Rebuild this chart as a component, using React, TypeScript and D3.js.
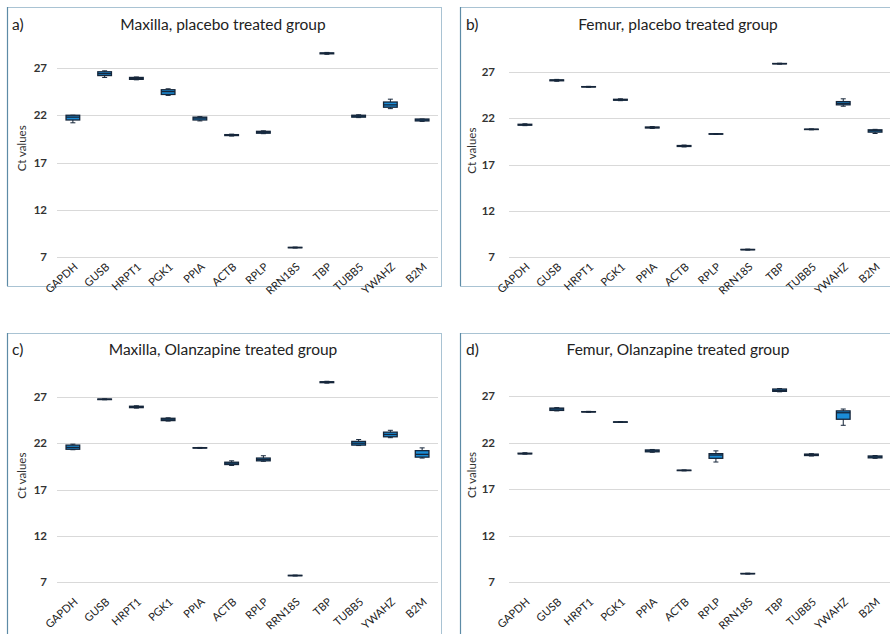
import React from "react";
import * as d3 from "d3";

const genes = ["GAPDH", "GUSB", "HRPT1", "PGK1", "PPIA", "ACTB", "RPLP", "RRN18S", "TBP", "TUBB5", "YWAHZ", "B2M"];
const yTicks = [7, 12, 17, 22, 27];
const yLabel = "Ct values";

// [whisker min, Q1, median, Q3, whisker max] per gene
const maxillaPlacebo = [
  [21.2, 21.5, 21.8, 22.0, 22.0],
  [26.0, 26.2, 26.4, 26.6, 26.7],
  [25.75, 25.8, 25.9, 26.0, 26.05],
  [24.1, 24.2, 24.5, 24.7, 24.8],
  [21.4, 21.5, 21.7, 21.8, 21.85],
  [19.8, 19.85, 19.9, 19.95, 20.0],
  [20.05, 20.1, 20.2, 20.3, 20.35],
  [7.95, 7.98, 8.0, 8.02, 8.05],
  [28.45, 28.5, 28.55, 28.6, 28.65],
  [21.75, 21.8, 21.9, 22.0, 22.05],
  [22.7, 22.85, 23.1, 23.4, 23.7],
  [21.35, 21.4, 21.5, 21.6, 21.6],
];
const femurPlacebo = [
  [21.2, 21.25, 21.3, 21.35, 21.4],
  [26.0, 26.05, 26.1, 26.15, 26.2],
  [25.35, 25.38, 25.4, 25.42, 25.45],
  [23.9, 23.95, 24.0, 24.05, 24.1],
  [20.9, 20.95, 21.0, 21.05, 21.1],
  [18.9, 18.95, 19.0, 19.05, 19.1],
  [20.25, 20.28, 20.3, 20.32, 20.35],
  [7.75, 7.78, 7.8, 7.82, 7.85],
  [27.85, 27.88, 27.9, 27.92, 27.95],
  [20.75, 20.78, 20.8, 20.82, 20.85],
  [23.3, 23.45, 23.6, 23.8, 24.1],
  [20.35, 20.5, 20.65, 20.75, 20.8],
];
const maxillaOlanzapine = [
  [21.3, 21.35, 21.55, 21.8, 21.9],
  [26.7, 26.72, 26.75, 26.78, 26.8],
  [25.8, 25.85, 25.95, 26.0, 26.05],
  [24.4, 24.45, 24.6, 24.7, 24.75],
  [21.45, 21.48, 21.5, 21.52, 21.55],
  [19.6, 19.7, 19.85, 19.95, 20.1],
  [20.05, 20.1, 20.25, 20.4, 20.65],
  [7.65, 7.68, 7.7, 7.72, 7.75],
  [28.5, 28.55, 28.6, 28.65, 28.7],
  [21.75, 21.8, 22.0, 22.2, 22.4],
  [22.6, 22.7, 22.95, 23.2, 23.4],
  [20.4, 20.5, 20.8, 21.2, 21.5],
];
const femurOlanzapine = [
  [20.75, 20.78, 20.8, 20.85, 20.9],
  [25.4, 25.45, 25.6, 25.7, 25.75],
  [25.25, 25.28, 25.3, 25.32, 25.35],
  [24.15, 24.18, 24.2, 24.22, 24.25],
  [20.95, 21.0, 21.1, 21.2, 21.25],
  [18.95, 18.98, 19.0, 19.02, 19.05],
  [19.9, 20.3, 20.65, 20.8, 21.1],
  [7.85, 7.88, 7.9, 7.92, 7.95],
  [27.45, 27.5, 27.6, 27.75, 27.8],
  [20.55, 20.6, 20.7, 20.75, 20.8],
  [23.85, 24.5, 25.2, 25.4, 25.6],
  [20.3, 20.35, 20.45, 20.55, 20.6],
];

const panelLetters = ["a)", "b)", "c)", "d)"];
const panelTitles = [
  "Maxilla, placebo treated group",
  "Femur, placebo treated group",
  "Maxilla, Olanzapine treated group",
  "Femur, Olanzapine treated group",
];
const panelData = [maxillaPlacebo, femurPlacebo, maxillaOlanzapine, femurOlanzapine];

// layout (pixels)
const layouts = [
  { fx: 7, fy: 7, fw: 434, fh: 279, x0: 57, x1: 438, y7: 257, y27: 68, tickGap: 10, titleX: 223, titleY: 30, letterX: 12, yLabX: 22, labDy: 8 },
  { fx: 460, fy: 7, fw: 440, fh: 279, x0: 509, x1: 891, y7: 257, y27: 72, tickGap: 14, titleX: 678, titleY: 30, letterX: 466, yLabX: 472, labDy: 8 },
  { fx: 7, fy: 333, fw: 434, fh: 320, x0: 57, x1: 438, y7: 582, y27: 397, tickGap: 10, titleX: 223, titleY: 355, letterX: 12, yLabX: 22, labDy: 18 },
  { fx: 460, fy: 333, fw: 440, fh: 320, x0: 509, x1: 891, y7: 582, y27: 396, tickGap: 14, titleX: 678, titleY: 355, letterX: 466, yLabX: 472, labDy: 18 },
];

const FONT = "Lato, 'Open Sans', sans-serif";
const BOX_FILL = "#1b8cd6";
const BOX_STROKE = "#16263a";

function Panel({ idx }: { idx: number }) {
  const L = layouts[idx];
  const data = panelData[idx];
  const x = d3.scaleBand<string>().domain(genes).range([L.x0, L.x1]).paddingInner(0).paddingOuter(0);
  const y = d3.scaleLinear().domain([7, 27]).range([L.y7, L.y27]);
  const bw = x.bandwidth() * 0.43;
  const plotMid = (y(7) + y(30)) / 2;
  return (
    <g>
      <rect x={L.fx + 0.5} y={L.fy + 0.5} width={L.fw} height={L.fh} fill="#fff" stroke="#a9c3d3" strokeWidth={1} />
      <line x1={L.fx + 0.5} x2={L.fx + 0.5} y1={L.fy} y2={L.fy + L.fh} stroke="#5d8ba6" strokeWidth={1.2} />
      <text x={L.letterX} y={L.titleY} fontFamily={FONT} fontSize={15.5} fill="#222">{panelLetters[idx]}</text>
      <text x={L.titleX} y={L.titleY} fontFamily={FONT} fontSize={15.5} fill="#222" textAnchor="middle">{panelTitles[idx]}</text>
      {yTicks.map((t) => (
        <g key={t}>
          <line x1={L.x0} x2={L.x1} y1={Math.round(y(t)) + 0.5} y2={Math.round(y(t)) + 0.5} stroke="#d9d9d9" strokeWidth={1} />
          <text x={L.x0 - L.tickGap} y={y(t)} dy="0.35em" textAnchor="end" fontFamily={FONT} fontSize={11.5} fontWeight={700} fill="#333">{t}</text>
        </g>
      ))}
      <text transform={`translate(${L.yLabX},${plotMid}) rotate(-90)`} textAnchor="middle" dy="0.35em" fontFamily={FONT} fontSize={11.5} fill="#333">{yLabel}</text>
      {genes.map((g, i) => {
        const [mn, q1, md, q3, mx] = data[i];
        const cx = (x(g) as number) + x.bandwidth() / 2;
        const top = y(q3);
        const bot = y(q1);
        return (
          <g key={g}>
            <line x1={cx} x2={cx} y1={y(mx)} y2={y(mn)} stroke={BOX_STROKE} strokeWidth={1} />
            <line x1={cx - 2.5} x2={cx + 2.5} y1={y(mx)} y2={y(mx)} stroke={BOX_STROKE} strokeWidth={1} />
            <line x1={cx - 2.5} x2={cx + 2.5} y1={y(mn)} y2={y(mn)} stroke={BOX_STROKE} strokeWidth={1} />
            <rect x={cx - bw / 2} y={top} width={bw} height={Math.max(bot - top, 0.01)} fill={BOX_FILL} stroke={BOX_STROKE} strokeWidth={1.3} />
            <line x1={cx - bw / 2} x2={cx + bw / 2} y1={y(md)} y2={y(md)} stroke={BOX_STROKE} strokeWidth={1.3} />
            <text transform={`translate(${cx + 3},${L.y7 + L.labDy}) rotate(-42)`} textAnchor="end" dy="0.35em" fontFamily={FONT} fontSize={11} fill="#222">{g}</text>
          </g>
        );
      })}
    </g>
  );
}

export default function App() {
  return (
    <svg width={890} height={634} style={{ position: "absolute", left: 0, top: 0, display: "block", background: "#fff" }}>
      <rect x={0} y={0} width={890} height={634} fill="#fff" />
      {[0, 1, 2, 3].map((i) => (
        <Panel key={i} idx={i} />
      ))}
    </svg>
  );
}
